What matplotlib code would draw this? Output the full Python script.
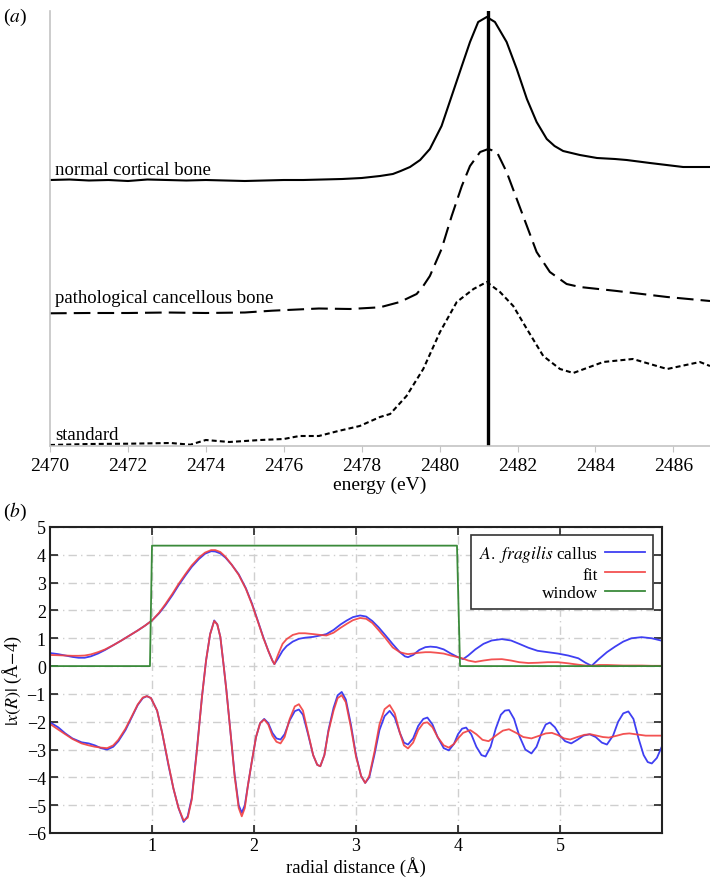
import matplotlib
matplotlib.use("Agg")
import matplotlib.pyplot as plt

plt.rcParams['font.family'] = ['Liberation Serif', 'DejaVu Serif']
plt.rcParams['mathtext.fontset'] = 'stix'

# ---- panel (a): S K-edge XANES, arbitrary units (stacked) ----
normal_e = [2470.0, 2470.5, 2471.0, 2471.5, 2472.0, 2472.5, 2473.0, 2473.5, 2474.0, 2474.5,
            2475.0, 2475.5, 2476.0, 2476.5, 2477.0, 2477.5, 2478.0, 2478.47, 2478.8, 2479.0,
            2479.24, 2479.5, 2479.75, 2480.05, 2480.31, 2480.57, 2480.78, 2480.99, 2481.21,
            2481.42, 2481.72, 2481.98, 2482.24, 2482.49, 2482.75, 2482.95, 2483.17, 2483.6,
            2484.04, 2484.5, 2484.8, 2485.4, 2486.25, 2486.94]
normal_i = [266, 266.5, 265.5, 266, 265, 266.5, 266, 265.5, 266, 265.5,
            265, 265.5, 266, 266, 266.5, 267, 268, 270, 272, 275,
            279, 286, 297, 320, 350, 380, 404, 424, 429,
            424, 404, 377, 347, 324, 307, 300, 295, 291,
            288, 287, 286, 283, 279, 279]

patho_e = [2470.0, 2471.0, 2472.0, 2473.0, 2474.0, 2475.0, 2475.7, 2476.9, 2477.7, 2478.47,
           2478.98, 2479.41, 2479.58, 2479.75, 2480.05, 2480.31, 2480.57, 2480.78, 2481.04,
           2481.25, 2481.47, 2481.72, 2481.98, 2482.24, 2482.49, 2482.83, 2483.26, 2483.6,
           2484.55, 2485.84, 2486.94]
patho_i = [132.7, 133, 133, 133.5, 133, 133.5, 135.3, 137.5, 137, 138.7,
           144, 152, 160, 170, 197, 230, 260, 280, 294,
           297, 294, 274, 247, 220, 194, 174, 162, 159,
           155, 149, 145]

std_e = [2470.0, 2471.0, 2472.0, 2473.1, 2473.6, 2474.0, 2474.6, 2475.4, 2476.0, 2476.4,
         2476.9, 2477.4, 2477.95, 2478.47, 2478.73, 2479.15, 2479.58, 2480.01, 2480.44,
         2480.87, 2481.21, 2481.55, 2481.89, 2482.24, 2482.66, 2483.09, 2483.43, 2484.2,
         2484.96, 2485.84, 2486.68, 2486.94]
std_i = [1, 2, 2.3, 3, 1.3, 6, 4, 6, 7, 10,
         10, 15, 20, 29, 32, 50, 77, 114, 144,
         157, 164, 154, 140, 117, 90, 77, 73, 84,
         87, 77, 84, 80]

peak_energy = 2481.23
energy_ticks = [2470, 2472, 2474, 2476, 2478, 2480, 2482, 2484, 2486]

# ---- panel (b): Fourier transform of EXAFS ----
r_vals = [0.00, 0.08, 0.15, 0.22, 0.28, 0.34, 0.40, 0.47, 0.54, 0.62, 0.70, 0.78, 0.86, 0.93,
          1.00, 1.07, 1.13, 1.20, 1.26, 1.33, 1.39, 1.46, 1.52, 1.58, 1.62, 1.67, 1.72, 1.78,
          1.85, 1.92, 1.98, 2.04, 2.09, 2.14, 2.18, 2.20, 2.24, 2.28, 2.32, 2.38, 2.44, 2.50,
          2.58, 2.65, 2.71, 2.78, 2.85, 2.91, 2.97, 3.04, 3.10, 3.16, 3.22, 3.29, 3.36, 3.43,
          3.48, 3.51, 3.56, 3.62, 3.68, 3.73, 3.79, 3.86, 3.93, 4.00, 4.05, 4.10, 4.17, 4.25,
          4.33, 4.43, 4.52, 4.60, 4.69, 4.78, 4.88, 4.98, 5.08, 5.18, 5.25, 5.31, 5.38, 5.46,
          5.54, 5.62, 5.70, 5.80, 5.90, 6.00]
mag_data = [0.47, 0.43, 0.38, 0.33, 0.30, 0.30, 0.35, 0.45, 0.58, 0.75, 0.92, 1.10, 1.28, 1.45,
            1.64, 1.90, 2.18, 2.55, 2.90, 3.27, 3.57, 3.85, 4.04, 4.13, 4.12, 4.05, 3.90, 3.65,
            3.30, 2.80, 2.25, 1.60, 1.05, 0.55, 0.20, 0.07, 0.30, 0.55, 0.72, 0.88, 0.98, 1.02,
            1.05, 1.10, 1.15, 1.30, 1.50, 1.64, 1.76, 1.82, 1.78, 1.62, 1.40, 1.10, 0.79, 0.50,
            0.35, 0.32, 0.40, 0.58, 0.68, 0.70, 0.68, 0.60, 0.45, 0.32, 0.25, 0.38, 0.60, 0.80,
            0.92, 0.97, 0.92, 0.80, 0.66, 0.55, 0.50, 0.45, 0.38, 0.28, 0.12, 0.01, 0.25, 0.50,
            0.70, 0.88, 1.00, 1.04, 1.00, 0.91]
mag_fit = [0.40, 0.39, 0.38, 0.37, 0.37, 0.38, 0.42, 0.50, 0.60, 0.75, 0.92, 1.10, 1.28, 1.45,
           1.64, 1.92, 2.22, 2.60, 2.95, 3.32, 3.62, 3.90, 4.08, 4.17, 4.17, 4.10, 3.93, 3.65,
           3.28, 2.78, 2.22, 1.58, 1.03, 0.55, 0.20, 0.07, 0.45, 0.80, 0.97, 1.12, 1.18, 1.18,
           1.15, 1.12, 1.10, 1.20, 1.38, 1.52, 1.65, 1.73, 1.70, 1.55, 1.30, 1.00, 0.67, 0.50,
           0.45, 0.43, 0.45, 0.48, 0.50, 0.50, 0.48, 0.45, 0.38, 0.32, 0.27, 0.20, 0.15, 0.20,
           0.24, 0.25, 0.20, 0.14, 0.11, 0.12, 0.14, 0.14, 0.10, 0.05, 0.02, 0.01, 0.04, 0.04,
           0.03, 0.02, 0.02, 0.02, 0.01, 0.01]

re_r = [0.00, 0.08, 0.15, 0.22, 0.31, 0.38, 0.44, 0.50, 0.56, 0.62, 0.67, 0.74, 0.80, 0.86,
        0.91, 0.95, 0.99, 1.05, 1.10, 1.16, 1.21, 1.26, 1.31, 1.35, 1.39, 1.44, 1.49, 1.53,
        1.57, 1.61, 1.64, 1.67, 1.70, 1.73, 1.77, 1.81, 1.85, 1.88, 1.91, 1.94, 1.98, 2.02,
        2.06, 2.10, 2.14, 2.18, 2.22, 2.26, 2.30, 2.35, 2.40, 2.44, 2.48, 2.53, 2.58, 2.62,
        2.65, 2.69, 2.73, 2.78, 2.82, 2.86, 2.90, 2.95, 3.00, 3.05, 3.09, 3.13, 3.18, 3.23,
        3.28, 3.33, 3.38, 3.43, 3.47, 3.51, 3.56, 3.61, 3.66, 3.70, 3.75, 3.80, 3.86, 3.91,
        3.96, 4.00, 4.04, 4.08, 4.13, 4.18, 4.23, 4.27, 4.32, 4.37, 4.42, 4.46, 4.50, 4.55,
        4.60, 4.66, 4.72, 4.77, 4.82, 4.86, 4.90, 4.95, 5.00, 5.05, 5.11, 5.17, 5.23, 5.29,
        5.35, 5.41, 5.46, 5.52, 5.57, 5.62, 5.67, 5.72, 5.77, 5.82, 5.86, 5.90, 5.95, 6.00]
re_data = [-2.02, -2.20, -2.42, -2.60, -2.74, -2.78, -2.85, -2.95, -3.00, -2.90, -2.70, -2.30,
           -1.85, -1.40, -1.15, -1.08, -1.15, -1.60, -2.40, -3.54, -4.40, -5.10, -5.60, -5.40,
           -4.74, -3.00, -1.10, 0.20, 1.15, 1.64, 1.50, 1.05, 0.10, -0.89, -2.40, -3.90, -5.00,
           -5.27, -5.00, -4.30, -3.40, -2.55, -2.05, -1.90, -2.05, -2.40, -2.60, -2.64, -2.45,
           -1.95, -1.62, -1.56, -1.75, -2.45, -3.20, -3.55, -3.60, -3.20, -2.30, -1.50, -1.05,
           -0.93, -1.20, -2.10, -3.20, -3.95, -4.20, -4.00, -3.20, -2.30, -1.80, -1.61, -1.85,
           -2.40, -2.75, -2.82, -2.60, -2.15, -1.90, -1.85, -2.10, -2.55, -2.95, -3.03, -2.80,
           -2.45, -2.25, -2.21, -2.45, -2.90, -3.20, -3.25, -2.90, -2.25, -1.75, -1.60, -1.58,
           -1.90, -2.50, -3.00, -3.14, -2.90, -2.40, -2.10, -2.03, -2.20, -2.50, -2.70, -2.78,
           -2.65, -2.50, -2.45, -2.55, -2.75, -2.82, -2.50, -2.00, -1.70, -1.63, -1.90, -2.60,
           -3.20, -3.45, -3.50, -3.30, -2.88]

re_fit_r = [0.00, 0.08, 0.15, 0.22, 0.31, 0.38, 0.44, 0.50, 0.56, 0.62, 0.67, 0.74, 0.80, 0.86,
            0.91, 0.95, 0.99, 1.05, 1.10, 1.16, 1.21, 1.26, 1.31, 1.35, 1.39, 1.44, 1.49, 1.53,
            1.57, 1.61, 1.64, 1.67, 1.70, 1.73, 1.77, 1.81, 1.85, 1.88, 1.91, 1.94, 1.98, 2.02,
            2.06, 2.10, 2.14, 2.18, 2.22, 2.26, 2.30, 2.35, 2.40, 2.44, 2.48, 2.53, 2.58, 2.62,
            2.65, 2.69, 2.73, 2.78, 2.82, 2.86, 2.90, 2.95, 3.00, 3.05, 3.09, 3.13, 3.18, 3.23,
            3.28, 3.33, 3.38, 3.43, 3.47, 3.51, 3.56, 3.61, 3.66, 3.70, 3.75, 3.80, 3.86, 3.91,
            3.96, 4.00, 4.05, 4.12, 4.18, 4.24, 4.30, 4.37, 4.44, 4.50, 4.57, 4.64, 4.72, 4.80,
            4.86, 4.92, 4.98, 5.04, 5.10, 5.17, 5.24, 5.30, 5.36, 5.42, 5.48, 5.56, 5.62, 5.68,
            5.76, 5.84, 5.92, 6.00]
re_fit = [-2.08, -2.28, -2.45, -2.62, -2.78, -2.85, -2.90, -2.93, -2.95, -2.85, -2.65, -2.25,
          -1.82, -1.38, -1.13, -1.08, -1.15, -1.60, -2.40, -3.50, -4.40, -5.10, -5.55, -5.45,
          -4.80, -3.05, -1.10, 0.20, 1.15, 1.62, 1.50, 1.05, 0.10, -0.90, -2.40, -3.95, -5.10,
          -5.40, -5.10, -4.30, -3.40, -2.55, -2.05, -1.92, -2.10, -2.50, -2.72, -2.78, -2.55,
          -1.90, -1.45, -1.37, -1.60, -2.40, -3.20, -3.55, -3.60, -3.20, -2.35, -1.60, -1.15,
          -1.05, -1.30, -2.20, -3.25, -3.95, -4.20, -3.95, -3.10, -2.10, -1.55, -1.40, -1.70,
          -2.40, -2.85, -2.96, -2.75, -2.30, -2.05, -2.02, -2.20, -2.55, -2.85, -2.93, -2.80,
          -2.60, -2.40, -2.30, -2.45, -2.65, -2.70, -2.50, -2.32, -2.27, -2.40, -2.55, -2.60,
          -2.50, -2.42, -2.40, -2.48, -2.60, -2.64, -2.55, -2.47, -2.45, -2.50, -2.55, -2.57,
          -2.50, -2.44, -2.42, -2.46, -2.50, -2.50, -2.50]

window_r = [0.0, 0.98, 1.0, 3.99, 4.02, 6.0]
window_v = [0.0, 0.0, 4.33, 4.33, 0.0, 0.0]

blue = '#3f3ff2'
red = '#f23f3f'
green = '#3a8a3a'

fig = plt.figure(figsize=(7.1, 8.79), dpi=100)

# ---------------- (a) ----------------
ax1 = fig.add_axes([50/710, 1 - 447/879, 660/710, 435/879])
ax1.plot(normal_e, normal_i, color='black', lw=1.5)
ax1.plot(patho_e, patho_i, color='black', lw=1.5, dashes=(8, 3.4))
ax1.plot(std_e, std_i, color='black', lw=1.5, dashes=(2.4, 1.5))
ax1.axvline(peak_energy, color='black', lw=2.4)
ax1.set_xlim(2470, 2486.94)
ax1.set_ylim(0, 435)
ax1.set_xticks(energy_ticks)
ax1.set_yticks([])
for s in ['top', 'right']:
    ax1.spines[s].set_visible(False)
for s in ['left', 'bottom']:
    ax1.spines[s].set_color('#c4c4c4')
    ax1.spines[s].set_linewidth(1.2)
ax1.tick_params(axis='x', direction='out', length=4, color='#c4c4c4', labelsize=14, pad=4)
ax1.set_xlabel('energy (eV)', fontsize=14, labelpad=1)
ax1.text(2470.13, 272, 'normal cortical bone', fontsize=13.5, va='baseline')
ax1.text(2470.13, 144, 'pathological cancellous bone', fontsize=13.5, va='baseline')
ax1.text(2470.13, 7, 'standard', fontsize=13.5, va='baseline')
fig.text(3/710, 1 - 22/879, '($a$)', fontsize=14)

# ---------------- (b) ----------------
ax2 = fig.add_axes([50/710, 1 - 834/879, 612/710, 306/879])
ax2.grid(True, color='#cfcfcf', lw=1.0, linestyle=(0, (6, 3, 1, 3)))
ax2.set_axisbelow(True)
ax2.plot(r_vals, mag_data, color=blue, lw=1.3, label=r'$\mathit{A.\ fragilis}$ callus')
ax2.plot(r_vals, mag_fit, color=red, lw=1.3, alpha=0.9, label='fit')
ax2.plot(window_r, window_v, color=green, lw=1.3, label='window')
ax2.plot(re_r, re_data, color=blue, lw=1.3)
ax2.plot(re_fit_r, re_fit, color=red, lw=1.3, alpha=0.9)
ax2.set_xlim(0, 6)
ax2.set_ylim(-6, 5)
ax2.set_xticks([1, 2, 3, 4, 5])
ax2.set_yticks(range(-6, 6))
ax2.tick_params(direction='in', top=True, right=True, length=6, width=1.2,
                color='#222222', labelsize=13, pad=3)
for s in ax2.spines.values():
    s.set_color('#222222')
    s.set_linewidth(1.5)
ax2.set_xlabel('radial distance (Å)', fontsize=13.5, va='baseline')
ax2.xaxis.set_label_coords(0.5, -0.128)
ax2.set_ylabel(r'$|x(R)|$ (Å$-$4)', fontsize=13, va='center')
ax2.yaxis.set_label_coords(-0.062, 0.5)
leg = ax2.legend(loc='upper right', bbox_to_anchor=(0.985, 0.974), markerfirst=False,
                 fontsize=12.5, fancybox=False, framealpha=1, edgecolor='#333333',
                 handlelength=2.3, labelspacing=0.15, borderpad=0.45, handletextpad=0.4,
                 borderaxespad=0)
leg.get_frame().set_linewidth(1.2)
fig.text(3/710, 1 - 517/879, '($b$)', fontsize=14)

fig.savefig('out.png', dpi=100)
